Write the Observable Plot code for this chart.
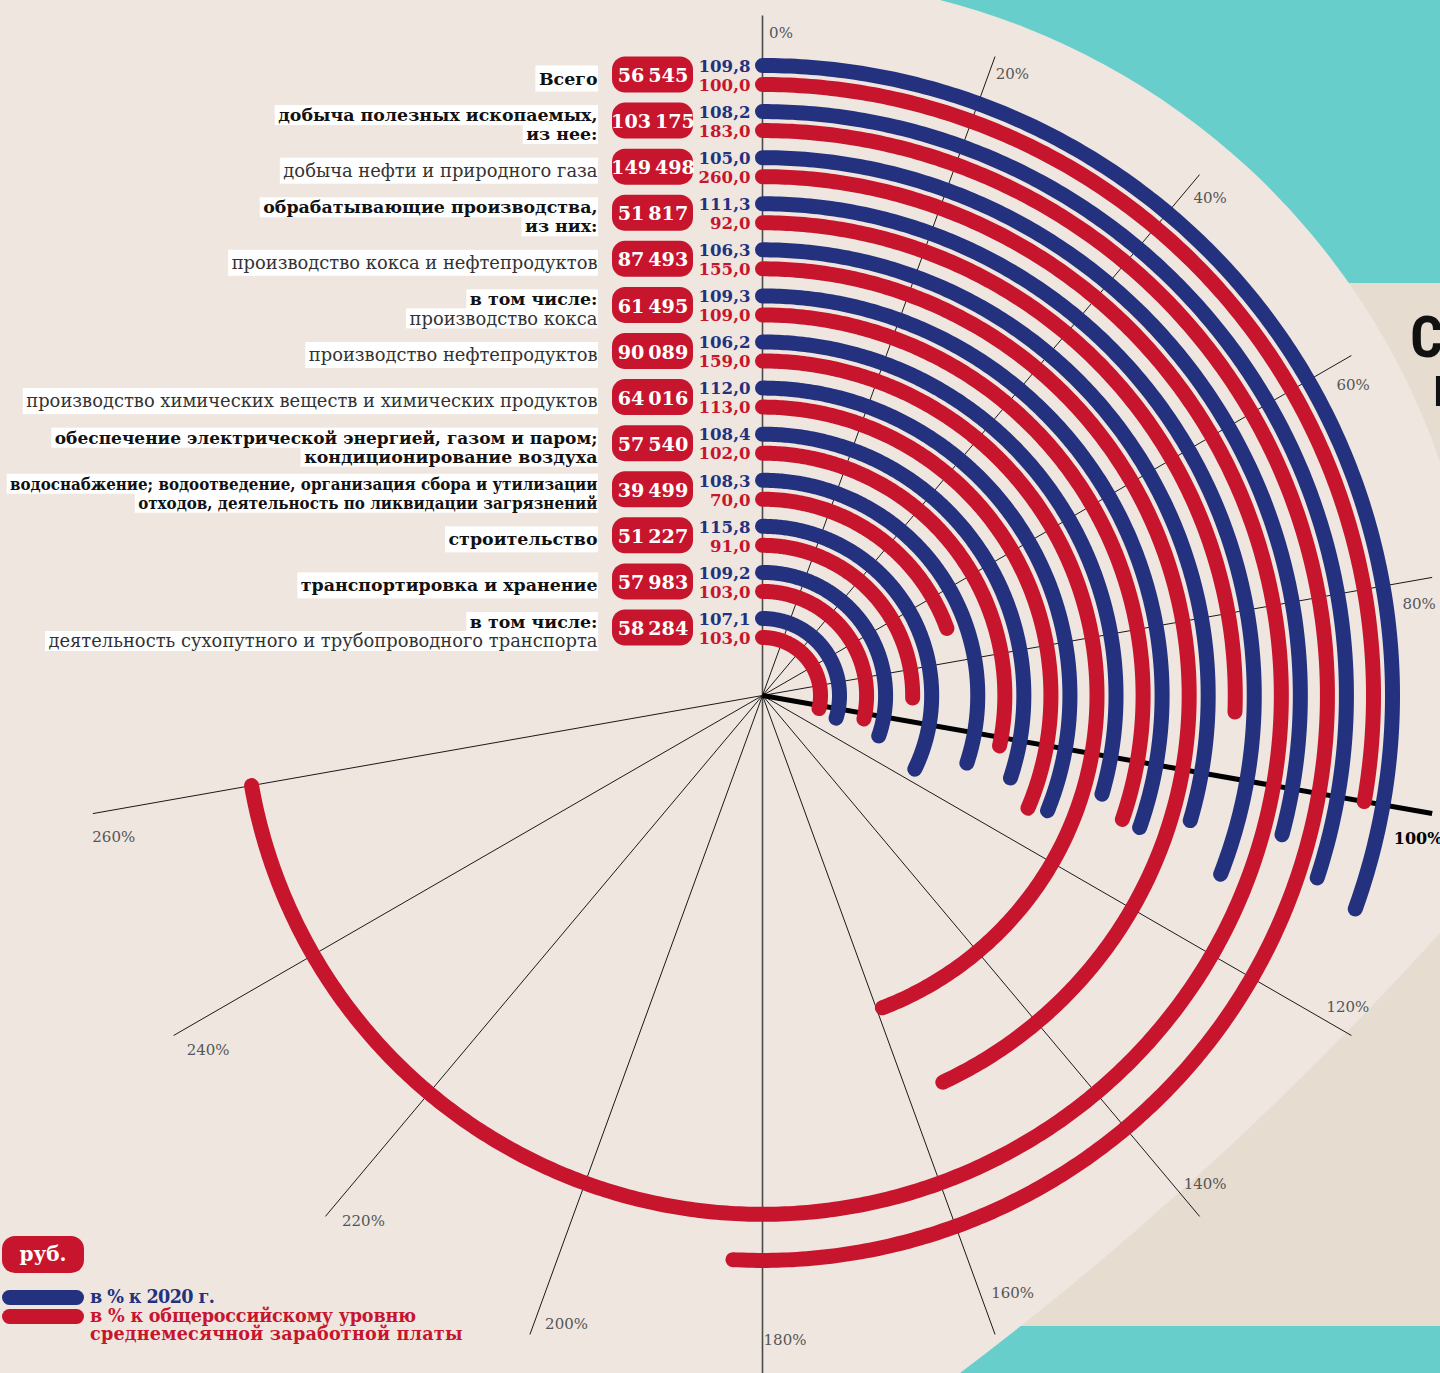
<!DOCTYPE html>
<html><head><meta charset="utf-8">
<script src="https://cdn.jsdelivr.net/npm/d3@7"></script>
<script src="https://cdn.jsdelivr.net/npm/@observablehq/plot@0.6"></script>
<style>
html,body{margin:0;padding:0;}
body{width:1440px;height:1373px;overflow:hidden;background:#efe6e0;position:relative;font-family:"DejaVu Serif",serif;}
#bg{position:absolute;left:0;top:0;}
#chart{position:absolute;left:0;top:0;}
.title{position:absolute;font-weight:bold;font-size:58px;font-family:"Roboto Condensed",Roboto,sans-serif;color:#111;white-space:nowrap;letter-spacing:-1px;}
#legend{position:absolute;left:0;top:0;}
.pill{position:absolute;border-radius:13px;}
.lt{position:absolute;left:90px;font:bold 17.6px/18px "DejaVu Serif",serif;white-space:nowrap;letter-spacing:-0.2px;}
</style></head>
<body>
<svg id="bg" width="1440" height="1373"></svg>
<div class="title" style="left:1410px;top:315px;line-height:44px;">Ср</div>
<div class="title" style="left:1433px;top:367px;line-height:38px;">н</div>
<div id="chart"></div>
<div id="legend">
  <div class="pill" style="left:2px;top:1236px;width:82px;height:37px;background:#c8152e;color:#fff;font:bold 20px/37px 'DejaVu Serif',serif;text-align:center;">руб.</div>
  <div class="pill" style="left:2px;top:1290px;width:82px;height:15px;border-radius:8px;background:#23317f;"></div>
  <div class="pill" style="left:2px;top:1309px;width:82px;height:15px;border-radius:8px;background:#c8152e;"></div>
  <div class="lt" style="top:1288px;color:#23317f;letter-spacing:-0.6px;">в % к 2020 г.</div>
  <div class="lt" style="top:1307px;color:#c8152e;">в % к общероссийскому уровню<br><span style="letter-spacing:0.2px">среднемесячной заработной платы</span></div>
</div>
<script>
// ---------- data ----------
const categories = [
  "Всего",
  "добыча полезных ископаемых, из нее:",
  "добыча нефти и природного газа",
  "обрабатывающие производства, из них:",
  "производство кокса и нефтепродуктов",
  "в том числе: производство кокса",
  "производство нефтепродуктов",
  "производство химических веществ и химических продуктов",
  "обеспечение электрической энергией, газом и паром; кондиционирование воздуха",
  "водоснабжение; водоотведение, организация сбора и утилизации отходов, деятельность по ликвидации загрязнений",
  "строительство",
  "транспортировка и хранение",
  "в том числе: деятельность сухопутного и трубопроводного транспорта"
];
// label lines: [text, bold]
const labelLines = [
  [["Всего", true]],
  [["добыча полезных ископаемых,", true], ["из нее:", true]],
  [["добыча нефти и природного газа", false]],
  [["обрабатывающие производства,", true], ["из них:", true]],
  [["производство кокса и нефтепродуктов", false]],
  [["в том числе:", true], ["производство кокса", false]],
  [["производство нефтепродуктов", false]],
  [["производство химических веществ и химических продуктов", false]],
  [["обеспечение электрической энергией, газом и паром;", true], ["кондиционирование воздуха", true]],
  [["водоснабжение; водоотведение, организация сбора и утилизации", true], ["отходов, деятельность по ликвидации загрязнений", true]],
  [["строительство", true]],
  [["транспортировка и хранение", true]],
  [["в том числе:", true], ["деятельность сухопутного и трубопроводного транспорта", false]]
];
const wageRub = [56545, 103175, 149498, 51817, 87493, 61495, 90089, 64016, 57540, 39499, 51227, 57983, 58284];
const pctTo2020 = [109.8, 108.2, 105.0, 111.3, 106.3, 109.3, 106.2, 112.0, 108.4, 108.3, 115.8, 109.2, 107.1];
const pctToRussia = [100.0, 183.0, 260.0, 92.0, 155.0, 109.0, 159.0, 113.0, 102.0, 70.0, 91.0, 103.0, 103.0];
const tickValues = [0, 20, 40, 60, 80, 100, 120, 140, 160, 180, 200, 220, 240, 260];

// ---------- style / layout ----------
const BLUE = "#23317f", RED = "#c8152e";
const SERIF = "'DejaVu Serif', serif";
const cx = 762, cy = 695;          // polar centre in page pixels
const gridR = 680;                 // length of the radial grid lines
const labelRight = -165;           // right edge of category labels (relative to centre)
const pillX1 = -150, pillX2 = -69; // number pills
const valueRight = -12;            // right edge of percentage values
const LABEL_SIZE = 17.9, LABEL_BOLD_SIZE = 17.4;
const sizeOverride = {"8-0": 17.0};
// labels that are set condensed: [font size, horizontal squeeze]
const squeezedLabels = new Map([[9, [16.8, 0.9]]]);
// tick label placement: [angle offset in degrees, radius]
const tickLabelPlacement = [[1.6,663],[1.9,670],[2,669],[2.3,667],[2.1,663],[2.3,671],[-2,663],[-2.2,659],[-2.7,648],[-2,645],[-2.7,659],[-2.8,660],[-2.6,658],[-2.3,664]];

// ---------- background decoration ----------
{
  const bg = d3.select("#bg");
  bg.append("rect").attr("width", 1440).attr("height", 1373).attr("fill", "#68cecc");
  bg.append("rect").attr("x", 900).attr("y", 283).attr("width", 540).attr("height", 1043).attr("fill", "#e6dcd0");
  bg.append("path").attr("fill", "#efe6e0")
    .attr("d", "M0,0 L940,0 A717,717 0 0 1 1440,462 L1440,933 Q1216,1180 960,1373 L0,1373 Z");
}

// ---------- scales ----------
const angle = d3.scaleLinear([0, 360], [0, 2 * Math.PI]);     // 1 % = 1 degree
const rBlue = d3.scalePoint(d3.range(categories.length), [630, 77]);
const rRed = i => rBlue(i) - 19;
const fmtInt = d3.formatLocale({decimal: ",", thousands: "\u2009", grouping: [3]}).format(",d");
const fmtPct = d3.formatLocale({decimal: ",", thousands: " ", grouping: [3]}).format(".1f");

// arcs (sampled along the angle derived from each value)
const arcs = [];
categories.forEach((c, i) => {
  [["b", pctTo2020[i], rBlue(i)], ["r", pctToRussia[i], rRed(i)]].forEach(([s, v, r]) => {
    const n = Math.ceil(v * 2);
    d3.range(n + 1).forEach(k => {
      const a = angle(v * k / n);
      arcs.push({id: s + i, series: s, x: r * Math.sin(a), y: r * Math.cos(a)});
    });
  });
});

// category label rows + their white boxes
const ctx = document.createElement("canvas").getContext("2d");
const rows = [];
const squeezeOf = new Map();
labelLines.forEach((lines, i) => {
  const ys = lines.length === 1 ? [(rBlue(i) + rRed(i)) / 2 - 4] : [rBlue(i) - 4, rRed(i) - 4];
  lines.forEach(([t, b], j) => {
    const sq = squeezedLabels.get(i);
    const size = sq ? sq[0] : sizeOverride[`${i}-${j}`] ?? (b ? LABEL_BOLD_SIZE : LABEL_SIZE);
    ctx.font = `${b ? "bold " : ""}${size}px 'DejaVu Serif'`;
    let w = ctx.measureText(t).width;
    if (sq) { w *= sq[1]; squeezeOf.set(t, sq[1]); }
    rows.push({text: t, bold: b, size, y: ys[j], w, n: lines.length});
  });
});

const pills = categories.map((c, i) => ({i, v: wageRub[i], y: (rBlue(i) + rRed(i)) / 2}));
const values = categories.flatMap((c, i) => [
  {t: fmtPct(pctTo2020[i]), y: rBlue(i) - 1, s: "b"},
  {t: fmtPct(pctToRussia[i]), y: rRed(i) - 1, s: "r"}
]);

const gx = (v, r) => r * Math.sin(angle(v));
const gy = (v, r) => r * Math.cos(angle(v));
const tickLabels = tickValues.map((v, i) => ({v, a: v + tickLabelPlacement[i][0], r: tickLabelPlacement[i][1]}));

const plot = Plot.plot({
  width: 1440, height: 1373, margin: 0,
  x: {domain: [-cx, 1440 - cx], axis: null},
  y: {domain: [cy - 1373, cy], axis: null},
  color: {domain: ["b", "r"], range: [BLUE, RED]},
  style: {background: "transparent", overflow: "visible"},
  marks: [
    Plot.link(tickValues.filter(v => v !== 100), {
      x1: () => 0, y1: () => 0, x2: v => gx(v, gridR), y2: v => gy(v, gridR),
      stroke: v => v % 180 === 0 ? "#4a4a4a" : "#1a1a1a", strokeWidth: v => v % 180 === 0 ? 1.6 : 1
    }),
    Plot.link([100], {
      x1: () => 0, y1: () => 0, x2: v => gx(v, gridR), y2: v => gy(v, gridR),
      stroke: "#000", strokeWidth: 5
    }),
    Plot.line(arcs, {x: "x", y: "y", z: "id", stroke: "series", strokeWidth: 15, strokeLinecap: "round"}),
    Plot.text(tickLabels.filter(d => d.v !== 100), {
      x: d => gx(d.a, d.r), y: d => gy(d.a, d.r),
      text: d => d.v + "%", fontSize: 15, fontFamily: SERIF, fill: "#555"
    }),
    Plot.text(tickLabels.filter(d => d.v === 100), {
      x: d => gx(d.a, d.r), y: d => gy(d.a, d.r),
      text: d => d.v + "%", fontSize: 16, fontFamily: SERIF, fill: "#000", fontWeight: "bold"
    }),
    Plot.rect(rows, {
      x1: d => labelRight - d.w - 3, x2: labelRight + 1,
      y1: d => d.y - (d.n === 1 ? 13 : 10), y2: d => d.y + (d.n === 1 ? 13 : 10),
      fill: "#fff"
    }),
    Plot.text(rows.filter(d => d.bold), {
      x: () => labelRight, y: "y", text: "text", textAnchor: "end",
      fontSize: d => d.size, fontWeight: "bold", fontFamily: SERIF, fill: "#111"
    }),
    Plot.text(rows.filter(d => !d.bold), {
      x: () => labelRight, y: "y", text: "text", textAnchor: "end",
      fontSize: d => d.size, fontFamily: SERIF, fill: "#333"
    }),
    Plot.rect(pills, {
      x1: () => pillX1, x2: () => pillX2, y1: d => d.y - 18, y2: d => d.y + 18,
      rx: 13, fill: RED
    }),
    Plot.text(pills, {
      x: () => (pillX1 + pillX2) / 2, y: d => d.y - 1, text: d => fmtInt(d.v),
      fill: "#fff", fontSize: 19.2, fontWeight: "bold", fontFamily: SERIF
    }),
    Plot.text(values, {
      x: () => valueRight, y: "y", text: "t", textAnchor: "end",
      fill: d => d.s === "b" ? BLUE : RED, fontSize: 16.6, fontWeight: "bold", fontFamily: SERIF
    })
  ]
});
// condensed setting for the long label lines: horizontal scale about the anchor point
plot.querySelectorAll("text").forEach(t => {
  const s = squeezeOf.get(t.textContent);
  if (!s) return;
  const tr = t.getAttribute("transform");
  if (tr && /translate/.test(tr)) {
    t.setAttribute("transform", `${tr} scale(${s},1)`);
  } else {
    const x = +t.getAttribute("x") || 0, y = +t.getAttribute("y") || 0;
    t.setAttribute("x", 0); t.setAttribute("y", 0);
    t.setAttribute("transform", `translate(${x},${y}) ${tr || ""} scale(${s},1)`);
  }
});
document.getElementById("chart").appendChild(plot);
</script>
</body></html>
